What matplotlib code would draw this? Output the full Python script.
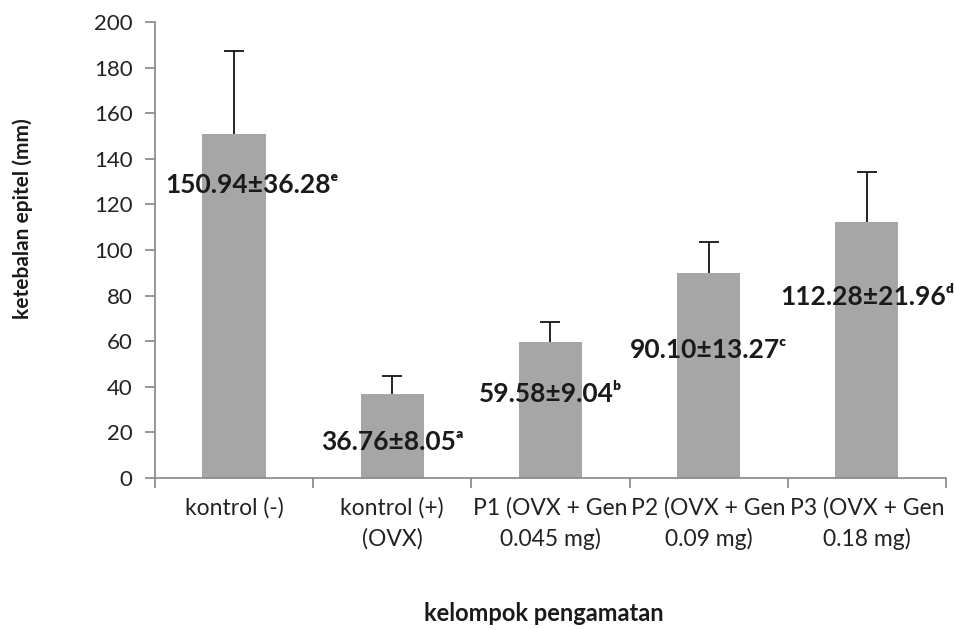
import numpy as np
import matplotlib.pyplot as plt
from matplotlib.ticker import FixedLocator, NullFormatter

# group names, means, SDs and significance letters
groups = ['kontrol (-)', 'kontrol (+)\n(OVX)', 'P1 (OVX + Gen\n0.045 mg)',
          'P2 (OVX + Gen\n0.09 mg)', 'P3 (OVX + Gen\n0.18 mg)']
means = [150.94, 36.76, 59.58, 90.10, 112.28]
sds = [36.28, 8.05, 9.04, 13.27, 21.96]
letters = ['ᵉ', 'ᵃ', 'ᵇ', 'ᶜ', 'ᵈ']
# where the value labels sit: height in data units, shift in bar slots
label_y = [128.5, 15.8, 37.0, 56.0, 79.4]
label_dx = [0.11, 0.0, 0.0, 0.0, 0.0]

plt.rcParams['font.family'] = ['Lato', 'DejaVu Sans']

fig = plt.figure(figsize=(9.56, 6.29), dpi=100)
ax = fig.add_axes([0.162, 0.240, 0.8275, 0.725])

x = np.arange(len(groups))
means_arr = np.array(means)
sds_arr = np.array(sds)
ax.bar(x, means_arr, width=0.4, color='#a6a6a6', zorder=2)

# upper error bars only: stem plus a cap on top
ax.errorbar(x, means_arr, yerr=[np.zeros(len(sds)), sds_arr], fmt='none',
            ecolor='black', elinewidth=1.2, capsize=0, zorder=3)
ax.plot(x, means_arr + sds_arr, ls='none', marker='_', markersize=14,
        markeredgewidth=1.2, color='black', zorder=3)

for xi, m, s, let, ly, dx in zip(x, means, sds, letters, label_y, label_dx):
    ax.text(xi + dx, ly, f'{m:.2f}±{s:.2f}{let}', ha='center', va='center',
            fontsize=19, fontweight='bold', color='#1a1a1a', zorder=4)

ax.set_xlim(-0.5, len(groups) - 0.5)
ax.set_ylim(0, 200)
ax.set_yticks(np.arange(0, 201, 20))

ax.set_xticks(x)
ax.set_xticklabels(groups, fontsize=16.5, color='#222222', linespacing=1.5)
ax.xaxis.set_minor_locator(FixedLocator(np.arange(-0.5, len(groups), 1)))
ax.xaxis.set_minor_formatter(NullFormatter())
ax.tick_params(axis='x', which='major', length=0, pad=14)
ax.tick_params(axis='x', which='minor', length=7, color='#868686', width=1.2)
ax.tick_params(axis='y', length=7, color='#868686', width=1.2,
               labelsize=16, labelcolor='#222222', pad=9)

for side in ['top', 'right']:
    ax.spines[side].set_visible(False)
for side in ['left', 'bottom']:
    ax.spines[side].set_color('#868686')
    ax.spines[side].set_linewidth(1.2)

fig.text(0.024, 0.653, 'ketebalan epitel (mm)', rotation=90, ha='center',
         va='center', fontsize=15, fontweight='bold', color='#1a1a1a')
fig.text(0.569, 0.025, 'kelompok pengamatan', ha='center', va='center',
         fontsize=17, fontweight='bold', color='#1a1a1a')

fig.savefig('out.png', dpi=100)
